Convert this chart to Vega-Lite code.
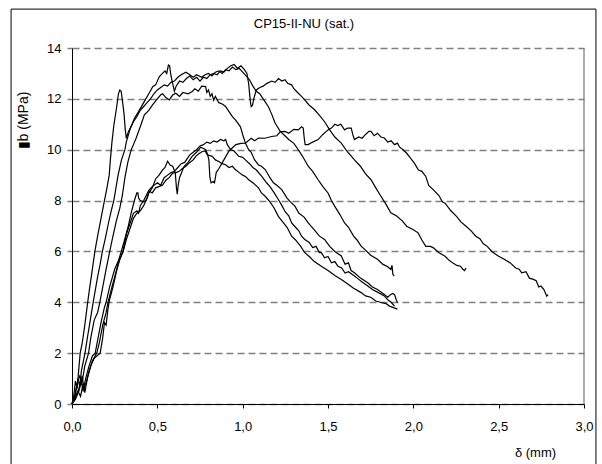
{
  "$schema": "https://vega.github.io/schema/vega-lite/v6.json",
  "autosize": {"type": "none"},
  "width": 512,
  "height": 356,
  "padding": {"left": 72, "top": 48, "right": 18, "bottom": 60},
  "background": "white",
  "config": {"view": {"stroke": null}, "font": "Liberation Sans"},
  "title": {"text": "CP15-II-NU (sat.)", "font": "Liberation Sans", "fontSize": 13, "fontWeight": "normal", "color": "black", "anchor": "middle", "dx": -24, "offset": -22},
  "datasets": {
    "curves": [
      {"c":"S","x":0,"y":0},{"c":"S","x":0.01,"y":0.3},{"c":"S","x":0.02,"y":0.9},{"c":"S","x":0.03,"y":0.6},{"c":"S","x":0.04,"y":1.4},{"c":"S","x":0.048,"y":2.0},{"c":"S","x":0.06,"y":2.4},{"c":"S","x":0.075,"y":3.1},{"c":"S","x":0.09,"y":3.9},{"c":"S","x":0.1,"y":4.4},{"c":"S","x":0.115,"y":5.1},{"c":"S","x":0.134,"y":6.0},{"c":"S","x":0.15,"y":6.6},{"c":"S","x":0.17,"y":7.3},{"c":"S","x":0.19,"y":8.0},{"c":"S","x":0.205,"y":8.5},{"c":"S","x":0.218,"y":9.0},{"c":"S","x":0.226,"y":9.7},{"c":"S","x":0.234,"y":10.3},{"c":"S","x":0.246,"y":11.0},{"c":"S","x":0.26,"y":11.6},{"c":"S","x":0.272,"y":12.2},{"c":"S","x":0.28,"y":12.35},{"c":"S","x":0.288,"y":12.3},{"c":"S","x":0.296,"y":11.9},{"c":"S","x":0.305,"y":11.4},{"c":"S","x":0.312,"y":10.8},{"c":"S","x":0.318,"y":10.45},{"c":"S","x":0.33,"y":10.7},{"c":"S","x":0.345,"y":10.9},{"c":"S","x":0.36,"y":11.1},{"c":"S","x":0.38,"y":11.3},{"c":"S","x":0.4,"y":11.55},{"c":"S","x":0.42,"y":11.7},{"c":"S","x":0.44,"y":11.85},{"c":"S","x":0.46,"y":12.0},{"c":"S","x":0.48,"y":12.2},{"c":"S","x":0.5,"y":12.35},{"c":"S","x":0.52,"y":12.45},{"c":"S","x":0.54,"y":12.55},{"c":"S","x":0.56,"y":12.5},{"c":"S","x":0.58,"y":12.65},{"c":"S","x":0.6,"y":12.7},{"c":"S","x":0.62,"y":12.85},{"c":"S","x":0.64,"y":12.95},{"c":"S","x":0.667,"y":13.05},{"c":"S","x":0.69,"y":12.95},{"c":"S","x":0.71,"y":12.85},{"c":"S","x":0.73,"y":12.95},{"c":"S","x":0.76,"y":12.85},{"c":"S","x":0.78,"y":12.95},{"c":"S","x":0.8,"y":13.0},{"c":"S","x":0.82,"y":12.9},{"c":"S","x":0.84,"y":13.05},{"c":"S","x":0.86,"y":13.1},{"c":"S","x":0.88,"y":13.0},{"c":"S","x":0.9,"y":13.15},{"c":"S","x":0.92,"y":13.1},{"c":"S","x":0.94,"y":13.25},{"c":"S","x":0.96,"y":13.15},{"c":"S","x":0.98,"y":13.2},{"c":"S","x":1.0,"y":13.05},{"c":"S","x":1.02,"y":12.9},{"c":"S","x":1.04,"y":12.75},{"c":"S","x":1.06,"y":12.5},{"c":"S","x":1.08,"y":12.3},{"c":"S","x":1.1,"y":12.2},{"c":"S","x":1.12,"y":12.0},{"c":"S","x":1.15,"y":11.7},{"c":"S","x":1.17,"y":11.4},{"c":"S","x":1.19,"y":11.05},{"c":"S","x":1.22,"y":10.72},{"c":"S","x":1.24,"y":10.6},{"c":"S","x":1.27,"y":10.4},{"c":"S","x":1.3,"y":10.25},{"c":"S","x":1.326,"y":10.0},{"c":"S","x":1.35,"y":9.75},{"c":"S","x":1.384,"y":9.35},{"c":"S","x":1.41,"y":9.15},{"c":"S","x":1.442,"y":8.82},{"c":"S","x":1.47,"y":8.55},{"c":"S","x":1.5,"y":8.3},{"c":"S","x":1.52,"y":8.0},{"c":"S","x":1.539,"y":7.78},{"c":"S","x":1.57,"y":7.45},{"c":"S","x":1.597,"y":7.12},{"c":"S","x":1.62,"y":6.95},{"c":"S","x":1.65,"y":6.6},{"c":"S","x":1.67,"y":6.45},{"c":"S","x":1.694,"y":6.21},{"c":"S","x":1.72,"y":6.05},{"c":"S","x":1.75,"y":5.85},{"c":"S","x":1.79,"y":5.69},{"c":"S","x":1.82,"y":5.5},{"c":"S","x":1.85,"y":5.4},{"c":"S","x":1.868,"y":5.29},{"c":"S","x":1.875,"y":5.45},{"c":"S","x":1.88,"y":5.1},{"c":"S","x":1.888,"y":5.03},

      {"c":"U2","x":0,"y":0},{"c":"U2","x":0.02,"y":0.4},{"c":"U2","x":0.035,"y":1.0},{"c":"U2","x":0.045,"y":0.7},{"c":"U2","x":0.055,"y":1.3},{"c":"U2","x":0.076,"y":2.0},{"c":"U2","x":0.09,"y":2.6},{"c":"U2","x":0.1,"y":3.0},{"c":"U2","x":0.124,"y":4.0},{"c":"U2","x":0.15,"y":5.0},{"c":"U2","x":0.165,"y":5.5},{"c":"U2","x":0.178,"y":6.0},{"c":"U2","x":0.195,"y":6.5},{"c":"U2","x":0.21,"y":7.0},{"c":"U2","x":0.23,"y":7.6},{"c":"U2","x":0.245,"y":8.0},{"c":"U2","x":0.26,"y":8.6},{"c":"U2","x":0.27,"y":9.0},{"c":"U2","x":0.29,"y":9.6},{"c":"U2","x":0.31,"y":10.0},{"c":"U2","x":0.318,"y":10.3},{"c":"U2","x":0.34,"y":10.8},{"c":"U2","x":0.366,"y":11.24},{"c":"U2","x":0.39,"y":11.5},{"c":"U2","x":0.424,"y":11.9},{"c":"U2","x":0.45,"y":12.2},{"c":"U2","x":0.473,"y":12.48},{"c":"U2","x":0.49,"y":12.55},{"c":"U2","x":0.512,"y":12.88},{"c":"U2","x":0.53,"y":13.0},{"c":"U2","x":0.545,"y":13.1},{"c":"U2","x":0.555,"y":13.0},{"c":"U2","x":0.565,"y":13.33},{"c":"U2","x":0.572,"y":13.3},{"c":"U2","x":0.58,"y":12.9},{"c":"U2","x":0.59,"y":12.6},{"c":"U2","x":0.6,"y":12.3},{"c":"U2","x":0.61,"y":12.5},{"c":"U2","x":0.63,"y":12.7},{"c":"U2","x":0.65,"y":12.65},{"c":"U2","x":0.67,"y":12.8},{"c":"U2","x":0.69,"y":12.9},{"c":"U2","x":0.71,"y":12.75},{"c":"U2","x":0.73,"y":12.85},{"c":"U2","x":0.75,"y":12.7},{"c":"U2","x":0.77,"y":12.85},{"c":"U2","x":0.79,"y":12.8},{"c":"U2","x":0.81,"y":12.95},{"c":"U2","x":0.83,"y":13.0},{"c":"U2","x":0.85,"y":12.95},{"c":"U2","x":0.87,"y":13.1},{"c":"U2","x":0.89,"y":13.05},{"c":"U2","x":0.91,"y":13.2},{"c":"U2","x":0.93,"y":13.3},{"c":"U2","x":0.95,"y":13.35},{"c":"U2","x":0.97,"y":13.2},{"c":"U2","x":0.99,"y":13.3},{"c":"U2","x":1.01,"y":13.15},{"c":"U2","x":1.025,"y":13.0},{"c":"U2","x":1.035,"y":12.6},{"c":"U2","x":1.045,"y":11.9},{"c":"U2","x":1.05,"y":11.7},{"c":"U2","x":1.058,"y":11.75},{"c":"U2","x":1.065,"y":12.0},{"c":"U2","x":1.08,"y":12.35},{"c":"U2","x":1.1,"y":12.45},{"c":"U2","x":1.12,"y":12.5},{"c":"U2","x":1.14,"y":12.6},{"c":"U2","x":1.17,"y":12.7},{"c":"U2","x":1.19,"y":12.65},{"c":"U2","x":1.21,"y":12.8},{"c":"U2","x":1.23,"y":12.7},{"c":"U2","x":1.248,"y":12.75},{"c":"U2","x":1.265,"y":12.6},{"c":"U2","x":1.287,"y":12.55},{"c":"U2","x":1.3,"y":12.4},{"c":"U2","x":1.326,"y":12.22},{"c":"U2","x":1.345,"y":12.1},{"c":"U2","x":1.364,"y":11.96},{"c":"U2","x":1.39,"y":11.75},{"c":"U2","x":1.422,"y":11.57},{"c":"U2","x":1.45,"y":11.35},{"c":"U2","x":1.48,"y":11.1},{"c":"U2","x":1.51,"y":10.78},{"c":"U2","x":1.54,"y":10.5},{"c":"U2","x":1.578,"y":10.26},{"c":"U2","x":1.61,"y":9.95},{"c":"U2","x":1.655,"y":9.6},{"c":"U2","x":1.69,"y":9.35},{"c":"U2","x":1.72,"y":9.05},{"c":"U2","x":1.752,"y":8.82},{"c":"U2","x":1.78,"y":8.5},{"c":"U2","x":1.81,"y":8.17},{"c":"U2","x":1.84,"y":7.85},{"c":"U2","x":1.868,"y":7.52},{"c":"U2","x":1.9,"y":7.4},{"c":"U2","x":1.935,"y":7.2},{"c":"U2","x":1.961,"y":6.99},{"c":"U2","x":2.0,"y":6.85},{"c":"U2","x":2.028,"y":6.73},{"c":"U2","x":2.05,"y":6.45},{"c":"U2","x":2.073,"y":6.2},{"c":"U2","x":2.1,"y":6.2},{"c":"U2","x":2.118,"y":6.14},{"c":"U2","x":2.15,"y":5.95},{"c":"U2","x":2.186,"y":5.81},{"c":"U2","x":2.21,"y":5.65},{"c":"U2","x":2.23,"y":5.55},{"c":"U2","x":2.255,"y":5.45},{"c":"U2","x":2.276,"y":5.42},{"c":"U2","x":2.29,"y":5.3},{"c":"U2","x":2.3,"y":5.25},{"c":"U2","x":2.309,"y":5.35},

      {"c":"U3","x":0,"y":0},{"c":"U3","x":0.015,"y":0.3},{"c":"U3","x":0.03,"y":0.8},{"c":"U3","x":0.045,"y":1.1},{"c":"U3","x":0.06,"y":0.9},{"c":"U3","x":0.075,"y":1.5},{"c":"U3","x":0.097,"y":2.0},{"c":"U3","x":0.11,"y":2.6},{"c":"U3","x":0.13,"y":3.3},{"c":"U3","x":0.15,"y":3.6},{"c":"U3","x":0.163,"y":4.0},{"c":"U3","x":0.18,"y":4.6},{"c":"U3","x":0.2,"y":5.3},{"c":"U3","x":0.221,"y":6.0},{"c":"U3","x":0.24,"y":6.6},{"c":"U3","x":0.26,"y":7.2},{"c":"U3","x":0.28,"y":7.7},{"c":"U3","x":0.295,"y":8.2},{"c":"U3","x":0.31,"y":8.9},{"c":"U3","x":0.327,"y":9.5},{"c":"U3","x":0.347,"y":10.0},{"c":"U3","x":0.36,"y":10.2},{"c":"U3","x":0.376,"y":10.46},{"c":"U3","x":0.4,"y":10.9},{"c":"U3","x":0.424,"y":11.37},{"c":"U3","x":0.45,"y":11.55},{"c":"U3","x":0.472,"y":11.76},{"c":"U3","x":0.5,"y":12.0},{"c":"U3","x":0.52,"y":12.16},{"c":"U3","x":0.531,"y":12.2},{"c":"U3","x":0.55,"y":12.05},{"c":"U3","x":0.57,"y":11.96},{"c":"U3","x":0.59,"y":12.15},{"c":"U3","x":0.608,"y":12.22},{"c":"U3","x":0.63,"y":12.1},{"c":"U3","x":0.65,"y":12.25},{"c":"U3","x":0.68,"y":12.2},{"c":"U3","x":0.705,"y":12.29},{"c":"U3","x":0.72,"y":12.4},{"c":"U3","x":0.74,"y":12.3},{"c":"U3","x":0.76,"y":12.5},{"c":"U3","x":0.783,"y":12.48},{"c":"U3","x":0.79,"y":12.25},{"c":"U3","x":0.8,"y":12.35},{"c":"U3","x":0.81,"y":12.1},{"c":"U3","x":0.82,"y":12.2},{"c":"U3","x":0.83,"y":11.95},{"c":"U3","x":0.84,"y":12.1},{"c":"U3","x":0.86,"y":11.85},{"c":"U3","x":0.88,"y":11.8},{"c":"U3","x":0.9,"y":11.7},{"c":"U3","x":0.92,"y":11.5},{"c":"U3","x":0.94,"y":11.3},{"c":"U3","x":0.96,"y":11.15},{"c":"U3","x":0.987,"y":10.9},{"c":"U3","x":1.0,"y":10.6},{"c":"U3","x":1.016,"y":10.26},{"c":"U3","x":1.035,"y":10.0},{"c":"U3","x":1.05,"y":9.9},{"c":"U3","x":1.07,"y":9.6},{"c":"U3","x":1.093,"y":9.4},{"c":"U3","x":1.11,"y":9.35},{"c":"U3","x":1.132,"y":9.22},{"c":"U3","x":1.16,"y":8.9},{"c":"U3","x":1.18,"y":8.7},{"c":"U3","x":1.2,"y":8.6},{"c":"U3","x":1.229,"y":8.43},{"c":"U3","x":1.26,"y":8.1},{"c":"U3","x":1.28,"y":7.95},{"c":"U3","x":1.306,"y":7.78},{"c":"U3","x":1.33,"y":7.5},{"c":"U3","x":1.36,"y":7.35},{"c":"U3","x":1.384,"y":7.12},{"c":"U3","x":1.42,"y":6.85},{"c":"U3","x":1.45,"y":6.6},{"c":"U3","x":1.48,"y":6.47},{"c":"U3","x":1.51,"y":6.2},{"c":"U3","x":1.54,"y":6.0},{"c":"U3","x":1.578,"y":5.82},{"c":"U3","x":1.6,"y":5.5},{"c":"U3","x":1.62,"y":5.55},{"c":"U3","x":1.635,"y":5.25},{"c":"U3","x":1.655,"y":5.16},{"c":"U3","x":1.69,"y":4.95},{"c":"U3","x":1.733,"y":4.77},{"c":"U3","x":1.76,"y":4.6},{"c":"U3","x":1.79,"y":4.5},{"c":"U3","x":1.83,"y":4.31},{"c":"U3","x":1.85,"y":4.2},{"c":"U3","x":1.868,"y":4.31},{"c":"U3","x":1.88,"y":4.35},{"c":"U3","x":1.89,"y":4.3},{"c":"U3","x":1.9,"y":4.1},{"c":"U3","x":1.907,"y":3.99},

      {"c":"A","x":0,"y":0},{"c":"A","x":0.02,"y":0.2},{"c":"A","x":0.04,"y":0.5},{"c":"A","x":0.055,"y":0.9},{"c":"A","x":0.065,"y":0.5},{"c":"A","x":0.08,"y":1.0},{"c":"A","x":0.1,"y":1.5},{"c":"A","x":0.12,"y":1.9},{"c":"A","x":0.136,"y":2.0},{"c":"A","x":0.15,"y":2.5},{"c":"A","x":0.17,"y":3.2},{"c":"A","x":0.19,"y":3.8},{"c":"A","x":0.2,"y":4.0},{"c":"A","x":0.22,"y":4.6},{"c":"A","x":0.25,"y":5.3},{"c":"A","x":0.27,"y":5.6},{"c":"A","x":0.289,"y":6.0},{"c":"A","x":0.31,"y":6.5},{"c":"A","x":0.33,"y":7.0},{"c":"A","x":0.35,"y":7.6},{"c":"A","x":0.37,"y":8.1},{"c":"A","x":0.38,"y":8.3},{"c":"A","x":0.386,"y":8.3},{"c":"A","x":0.39,"y":8.1},{"c":"A","x":0.4,"y":8.0},{"c":"A","x":0.42,"y":7.95},{"c":"A","x":0.434,"y":8.0},{"c":"A","x":0.45,"y":8.3},{"c":"A","x":0.47,"y":8.5},{"c":"A","x":0.49,"y":8.85},{"c":"A","x":0.51,"y":9.0},{"c":"A","x":0.53,"y":9.2},{"c":"A","x":0.545,"y":9.3},{"c":"A","x":0.56,"y":9.55},{"c":"A","x":0.575,"y":9.4},{"c":"A","x":0.59,"y":9.35},{"c":"A","x":0.605,"y":9.1},{"c":"A","x":0.612,"y":8.5},{"c":"A","x":0.617,"y":8.25},{"c":"A","x":0.622,"y":8.6},{"c":"A","x":0.63,"y":8.9},{"c":"A","x":0.657,"y":9.35},{"c":"A","x":0.68,"y":9.5},{"c":"A","x":0.705,"y":9.75},{"c":"A","x":0.73,"y":9.9},{"c":"A","x":0.754,"y":10.1},{"c":"A","x":0.77,"y":10.05},{"c":"A","x":0.783,"y":10.0},{"c":"A","x":0.795,"y":9.8},{"c":"A","x":0.802,"y":9.6},{"c":"A","x":0.808,"y":8.9},{"c":"A","x":0.815,"y":8.7},{"c":"A","x":0.828,"y":8.75},{"c":"A","x":0.835,"y":8.7},{"c":"A","x":0.845,"y":9.1},{"c":"A","x":0.86,"y":9.25},{"c":"A","x":0.89,"y":9.6},{"c":"A","x":0.92,"y":9.95},{"c":"A","x":0.96,"y":10.2},{"c":"A","x":0.99,"y":10.25},{"c":"A","x":1.016,"y":10.26},{"c":"A","x":1.05,"y":10.45},{"c":"A","x":1.07,"y":10.35},{"c":"A","x":1.093,"y":10.46},{"c":"A","x":1.13,"y":10.45},{"c":"A","x":1.17,"y":10.52},{"c":"A","x":1.2,"y":10.55},{"c":"A","x":1.22,"y":10.7},{"c":"A","x":1.248,"y":10.72},{"c":"A","x":1.27,"y":10.65},{"c":"A","x":1.3,"y":10.8},{"c":"A","x":1.326,"y":10.78},{"c":"A","x":1.345,"y":10.9},{"c":"A","x":1.355,"y":10.85},{"c":"A","x":1.36,"y":10.5},{"c":"A","x":1.366,"y":10.2},{"c":"A","x":1.384,"y":10.2},{"c":"A","x":1.41,"y":10.3},{"c":"A","x":1.442,"y":10.4},{"c":"A","x":1.47,"y":10.6},{"c":"A","x":1.5,"y":10.78},{"c":"A","x":1.52,"y":10.85},{"c":"A","x":1.54,"y":11.0},{"c":"A","x":1.558,"y":10.95},{"c":"A","x":1.575,"y":11.0},{"c":"A","x":1.597,"y":10.78},{"c":"A","x":1.615,"y":10.85},{"c":"A","x":1.636,"y":10.85},{"c":"A","x":1.645,"y":10.6},{"c":"A","x":1.655,"y":10.4},{"c":"A","x":1.68,"y":10.5},{"c":"A","x":1.7,"y":10.45},{"c":"A","x":1.72,"y":10.6},{"c":"A","x":1.74,"y":10.72},{"c":"A","x":1.752,"y":10.72},{"c":"A","x":1.77,"y":10.55},{"c":"A","x":1.79,"y":10.65},{"c":"A","x":1.81,"y":10.5},{"c":"A","x":1.83,"y":10.46},{"c":"A","x":1.85,"y":10.3},{"c":"A","x":1.87,"y":10.35},{"c":"A","x":1.89,"y":10.2},{"c":"A","x":1.907,"y":10.26},{"c":"A","x":1.92,"y":10.1},{"c":"A","x":1.94,"y":10.0},{"c":"A","x":1.961,"y":9.86},{"c":"A","x":1.98,"y":9.7},{"c":"A","x":2.006,"y":9.47},{"c":"A","x":2.03,"y":9.2},{"c":"A","x":2.05,"y":9.15},{"c":"A","x":2.073,"y":8.95},{"c":"A","x":2.09,"y":8.6},{"c":"A","x":2.118,"y":8.42},{"c":"A","x":2.15,"y":8.2},{"c":"A","x":2.17,"y":7.95},{"c":"A","x":2.186,"y":7.9},{"c":"A","x":2.22,"y":7.6},{"c":"A","x":2.253,"y":7.38},{"c":"A","x":2.28,"y":7.15},{"c":"A","x":2.309,"y":6.99},{"c":"A","x":2.34,"y":6.8},{"c":"A","x":2.366,"y":6.6},{"c":"A","x":2.39,"y":6.5},{"c":"A","x":2.41,"y":6.3},{"c":"A","x":2.433,"y":6.2},{"c":"A","x":2.46,"y":6.0},{"c":"A","x":2.48,"y":5.9},{"c":"A","x":2.5,"y":5.81},{"c":"A","x":2.53,"y":5.7},{"c":"A","x":2.568,"y":5.55},{"c":"A","x":2.6,"y":5.35},{"c":"A","x":2.62,"y":5.3},{"c":"A","x":2.635,"y":5.16},{"c":"A","x":2.66,"y":5.2},{"c":"A","x":2.68,"y":4.95},{"c":"A","x":2.703,"y":4.9},{"c":"A","x":2.72,"y":4.85},{"c":"A","x":2.735,"y":4.6},{"c":"A","x":2.748,"y":4.64},{"c":"A","x":2.765,"y":4.5},{"c":"A","x":2.775,"y":4.35},{"c":"A","x":2.782,"y":4.24},{"c":"A","x":2.79,"y":4.3},

      {"c":"B","x":0,"y":0},{"c":"B","x":0.02,"y":0.3},{"c":"B","x":0.04,"y":0.6},{"c":"B","x":0.06,"y":1.1},{"c":"B","x":0.07,"y":0.6},{"c":"B","x":0.085,"y":0.9},{"c":"B","x":0.1,"y":1.3},{"c":"B","x":0.12,"y":1.7},{"c":"B","x":0.145,"y":2.0},{"c":"B","x":0.16,"y":2.4},{"c":"B","x":0.18,"y":3.1},{"c":"B","x":0.2,"y":3.6},{"c":"B","x":0.211,"y":4.0},{"c":"B","x":0.23,"y":4.5},{"c":"B","x":0.25,"y":5.0},{"c":"B","x":0.27,"y":5.5},{"c":"B","x":0.298,"y":6.0},{"c":"B","x":0.32,"y":6.7},{"c":"B","x":0.34,"y":7.1},{"c":"B","x":0.36,"y":7.5},{"c":"B","x":0.38,"y":7.6},{"c":"B","x":0.39,"y":7.5},{"c":"B","x":0.4,"y":7.8},{"c":"B","x":0.42,"y":8.0},{"c":"B","x":0.45,"y":8.4},{"c":"B","x":0.47,"y":8.55},{"c":"B","x":0.5,"y":8.7},{"c":"B","x":0.52,"y":8.6},{"c":"B","x":0.54,"y":8.9},{"c":"B","x":0.56,"y":9.0},{"c":"B","x":0.58,"y":9.1},{"c":"B","x":0.6,"y":9.15},{"c":"B","x":0.62,"y":9.3},{"c":"B","x":0.64,"y":9.45},{"c":"B","x":0.66,"y":9.5},{"c":"B","x":0.69,"y":9.8},{"c":"B","x":0.71,"y":9.9},{"c":"B","x":0.73,"y":10.0},{"c":"B","x":0.75,"y":10.15},{"c":"B","x":0.77,"y":10.2},{"c":"B","x":0.79,"y":10.3},{"c":"B","x":0.81,"y":10.25},{"c":"B","x":0.83,"y":10.35},{"c":"B","x":0.85,"y":10.3},{"c":"B","x":0.87,"y":10.4},{"c":"B","x":0.89,"y":10.35},{"c":"B","x":0.9,"y":10.4},{"c":"B","x":0.91,"y":10.2},{"c":"B","x":0.93,"y":10.0},{"c":"B","x":0.95,"y":9.95},{"c":"B","x":0.977,"y":9.74},{"c":"B","x":1.0,"y":9.7},{"c":"B","x":1.016,"y":9.6},{"c":"B","x":1.04,"y":9.45},{"c":"B","x":1.06,"y":9.3},{"c":"B","x":1.08,"y":9.2},{"c":"B","x":1.112,"y":8.95},{"c":"B","x":1.14,"y":8.7},{"c":"B","x":1.16,"y":8.55},{"c":"B","x":1.185,"y":8.3},{"c":"B","x":1.209,"y":8.04},{"c":"B","x":1.23,"y":7.8},{"c":"B","x":1.25,"y":7.55},{"c":"B","x":1.27,"y":7.4},{"c":"B","x":1.287,"y":7.12},{"c":"B","x":1.31,"y":6.95},{"c":"B","x":1.33,"y":6.8},{"c":"B","x":1.345,"y":6.6},{"c":"B","x":1.364,"y":6.47},{"c":"B","x":1.39,"y":6.35},{"c":"B","x":1.41,"y":6.15},{"c":"B","x":1.43,"y":6.2},{"c":"B","x":1.45,"y":5.95},{"c":"B","x":1.461,"y":5.95},{"c":"B","x":1.48,"y":5.75},{"c":"B","x":1.5,"y":5.8},{"c":"B","x":1.52,"y":5.55},{"c":"B","x":1.54,"y":5.6},{"c":"B","x":1.558,"y":5.42},{"c":"B","x":1.58,"y":5.35},{"c":"B","x":1.6,"y":5.15},{"c":"B","x":1.62,"y":5.2},{"c":"B","x":1.655,"y":5.03},{"c":"B","x":1.68,"y":4.9},{"c":"B","x":1.7,"y":4.8},{"c":"B","x":1.733,"y":4.64},{"c":"B","x":1.76,"y":4.5},{"c":"B","x":1.79,"y":4.4},{"c":"B","x":1.83,"y":4.25},{"c":"B","x":1.85,"y":4.1},{"c":"B","x":1.87,"y":4.0},{"c":"B","x":1.89,"y":3.85},

      {"c":"G","x":0,"y":0},{"c":"G","x":0.02,"y":0.2},{"c":"G","x":0.035,"y":0.5},{"c":"G","x":0.05,"y":0.3},{"c":"G","x":0.065,"y":0.8},{"c":"G","x":0.075,"y":0.45},{"c":"G","x":0.09,"y":1.0},{"c":"G","x":0.11,"y":1.5},{"c":"G","x":0.13,"y":1.8},{"c":"G","x":0.165,"y":2.0},{"c":"G","x":0.18,"y":2.6},{"c":"G","x":0.19,"y":3.2},{"c":"G","x":0.2,"y":3.1},{"c":"G","x":0.21,"y":3.7},{"c":"G","x":0.22,"y":4.1},{"c":"G","x":0.24,"y":4.6},{"c":"G","x":0.26,"y":5.2},{"c":"G","x":0.28,"y":5.7},{"c":"G","x":0.3,"y":6.0},{"c":"G","x":0.32,"y":6.5},{"c":"G","x":0.34,"y":6.9},{"c":"G","x":0.36,"y":7.3},{"c":"G","x":0.38,"y":7.5},{"c":"G","x":0.4,"y":7.6},{"c":"G","x":0.42,"y":7.8},{"c":"G","x":0.44,"y":8.1},{"c":"G","x":0.453,"y":8.37},{"c":"G","x":0.47,"y":8.3},{"c":"G","x":0.49,"y":8.5},{"c":"G","x":0.512,"y":8.56},{"c":"G","x":0.53,"y":8.6},{"c":"G","x":0.55,"y":8.8},{"c":"G","x":0.57,"y":8.9},{"c":"G","x":0.589,"y":9.08},{"c":"G","x":0.61,"y":9.1},{"c":"G","x":0.628,"y":9.15},{"c":"G","x":0.645,"y":9.25},{"c":"G","x":0.667,"y":9.35},{"c":"G","x":0.69,"y":9.5},{"c":"G","x":0.71,"y":9.6},{"c":"G","x":0.725,"y":9.74},{"c":"G","x":0.745,"y":9.85},{"c":"G","x":0.764,"y":9.93},{"c":"G","x":0.78,"y":9.95},{"c":"G","x":0.793,"y":9.8},{"c":"G","x":0.822,"y":9.74},{"c":"G","x":0.84,"y":9.6},{"c":"G","x":0.86,"y":9.54},{"c":"G","x":0.88,"y":9.45},{"c":"G","x":0.9,"y":9.41},{"c":"G","x":0.92,"y":9.3},{"c":"G","x":0.94,"y":9.35},{"c":"G","x":0.957,"y":9.22},{"c":"G","x":0.98,"y":9.1},{"c":"G","x":1.0,"y":9.0},{"c":"G","x":1.016,"y":8.95},{"c":"G","x":1.035,"y":8.82},{"c":"G","x":1.06,"y":8.7},{"c":"G","x":1.093,"y":8.5},{"c":"G","x":1.11,"y":8.3},{"c":"G","x":1.132,"y":8.17},{"c":"G","x":1.16,"y":7.95},{"c":"G","x":1.185,"y":7.7},{"c":"G","x":1.209,"y":7.38},{"c":"G","x":1.23,"y":7.2},{"c":"G","x":1.26,"y":6.95},{"c":"G","x":1.287,"y":6.6},{"c":"G","x":1.31,"y":6.45},{"c":"G","x":1.34,"y":6.2},{"c":"G","x":1.364,"y":5.95},{"c":"G","x":1.39,"y":5.8},{"c":"G","x":1.42,"y":5.6},{"c":"G","x":1.461,"y":5.42},{"c":"G","x":1.5,"y":5.25},{"c":"G","x":1.54,"y":5.05},{"c":"G","x":1.578,"y":4.9},{"c":"G","x":1.61,"y":4.75},{"c":"G","x":1.65,"y":4.55},{"c":"G","x":1.694,"y":4.38},{"c":"G","x":1.72,"y":4.25},{"c":"G","x":1.75,"y":4.2},{"c":"G","x":1.78,"y":4.05},{"c":"G","x":1.81,"y":3.99},{"c":"G","x":1.84,"y":3.95},{"c":"G","x":1.86,"y":3.85},{"c":"G","x":1.88,"y":3.8},{"c":"G","x":1.907,"y":3.73}
    ]
  },
  "layer": [
    {
      "data": {"name": "curves"},
      "mark": {"type": "line", "color": "black", "strokeWidth": 1.2, "clip": false},
      "encoding": {
        "detail": {"field": "c", "type": "nominal"},
        "x": {
          "field": "x", "type": "quantitative",
          "scale": {"domain": [0, 3], "nice": false, "zero": false},
          "axis": {
            "values": [0, 0.5, 1, 1.5, 2, 2.5, 3],
            "labelExpr": "replace(format(datum.value, '.1f'), '.', ',')",
            "grid": false,
            "domainColor": "black", "domainWidth": 1,
            "tickColor": "black", "tickSize": 4,
            "labelFont": "Liberation Sans", "labelFontSize": 13, "labelColor": "black", "labelPadding": 12,
            "labelFlush": false,
            "title": "δ (mm)", "titleFont": "Liberation Sans", "titleFontSize": 13, "titleFontWeight": "normal", "titleColor": "black",
            "titleX": 463, "titleY": 42, "titleBaseline": "top", "titleAlign": "center", "titleAnchor": null
          }
        },
        "y": {
          "field": "y", "type": "quantitative",
          "scale": {"domain": [0, 14], "nice": false, "zero": false},
          "axis": {
            "values": [0, 2, 4, 6, 8, 10, 12, 14],
            "grid": true, "gridColor": "#808080", "gridDash": [7, 4], "gridWidth": 1.5,
            "domainColor": "black", "domainWidth": 1,
            "tickColor": "#808080", "tickSize": 5, "tickWidth": 1.5,
            "labelFont": "Liberation Sans", "labelFontSize": 13, "labelColor": "black", "labelPadding": 6,
            "title": "▮b (MPa)", "titleFont": "Liberation Sans", "titleFontSize": 14, "titleFontWeight": "normal", "titleColor": "black",
            "titleAngle": -90, "titleX": -45, "titleY": 72, "titleAlign": "center", "titleBaseline": "alphabetic", "titleAnchor": null
          }
        }
      }
    },
    {
      "data": {"values": [{}]},
      "mark": {"type": "rect", "fill": null, "stroke": "black", "strokeWidth": 1},
      "encoding": {
        "x": {"datum": -0.357, "type": "quantitative"},
        "x2": {"datum": 3.07},
        "y": {"datum": 15.53, "type": "quantitative"},
        "y2": {"datum": -2.7}
      }
    },
    {
      "data": {"values": [{}]},
      "mark": {"type": "rule", "color": "#808080", "strokeWidth": 1.3},
      "encoding": {
        "x": {"datum": 3, "type": "quantitative"},
        "y": {"datum": 0, "type": "quantitative"},
        "y2": {"datum": 14}
      }
    }
  ]
}
